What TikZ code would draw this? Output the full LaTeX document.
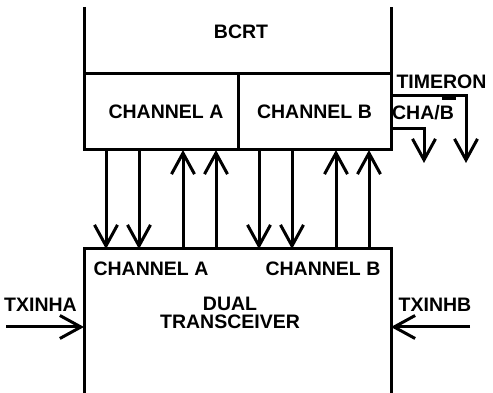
\documentclass[tikz,border=0pt]{standalone}
\usepackage{fontspec}
\setmainfont{Liberation Sans}
\usetikzlibrary{positioning,arrows.meta}

\tikzset{
  lbl/.style={font=\fontsize{19.5}{18}\selectfont\bfseries, inner sep=0pt},
  blk/.style={lbl, draw, line width=3pt, outer sep=0pt, minimum height=76pt},
  sig/.style={line width=3pt},
  dn/.style={sig, -{Straight Barb[length=21pt,width=23pt]}},
  up/.style={sig, {Straight Barb[length=21pt,width=23pt]}-},
}

\begin{document}
\begin{tikzpicture}[x=1pt, y=1pt]
    \useasboundingbox (0,0) rectangle (493,393);

    % Define nodes
    \node[blk, minimum width=154pt] (cha) at (161,281) {\hspace{10pt}CHANNEL A};
    \node[blk, minimum width=153pt] (chb) at (314.5,281) {CHANNEL B};
    \node[lbl] (bcrt) at (241,361) {BCRT};
    \node[lbl] (rxa) at (151,124) {CHANNEL A};
    \node[lbl] (rxb) at (323,124) {CHANNEL B};
    \node[lbl, align=center] (dual) at (230,80.5) {DUAL\\TRANSCEIVER};
    \node[lbl] (txinha) at (40.5,88) {TXINHA};
    \node[lbl] (txinhb) at (435,88) {TXINHB};
    \node[lbl] (timeron) at (441.5,311) {TIMERON};
    \node[lbl] (chab) at (423,280) {CHA/\smash{\makebox[0pt][l]{\hspace{2pt}\rule[20pt]{14pt}{3pt}}}B};

    % Box outlines
    \coordinate (btop) at (84,386);
    \coordinate (xbot) at (84,0);
    \coordinate (xtl) at (84,144);
    \coordinate (xtr) at (391,144);
    \draw[sig] (cha.north west |- btop) -- (cha.north west) -- (chb.north east) -- (chb.north east |- btop);
    \draw[sig] (xtl |- xbot) -- (xtl) -- (xtr) -- (xtr |- xbot);

    % Connect the nodes
    \foreach \x/\dir in {106/dn, 139/dn, 183/up, 216/up, 259/dn, 292/dn, 336/up, 369/up} {
        \coordinate (hi) at (\x,243);
        \coordinate (lo) at (\x,144);
        \draw[\dir] (hi) -- (lo);
    }
    \coordinate (ta) at (6,66);
    \coordinate (tb) at (470,66);
    \draw[dn] (ta) -- (ta -| xtl);
    \draw[dn] (tb) -- (tb -| xtr);

    \coordinate (tmo) at (391,297);
    \coordinate (tme) at (466,230);
    \draw[dn] (tmo) -- (tmo -| tme) -- (tme);
    \coordinate (cbo) at (391,264);
    \coordinate (cbe) at (424,230);
    \draw[dn] (cbo) -- (cbo -| cbe) -- (cbe);

\end{tikzpicture}
\end{document}
